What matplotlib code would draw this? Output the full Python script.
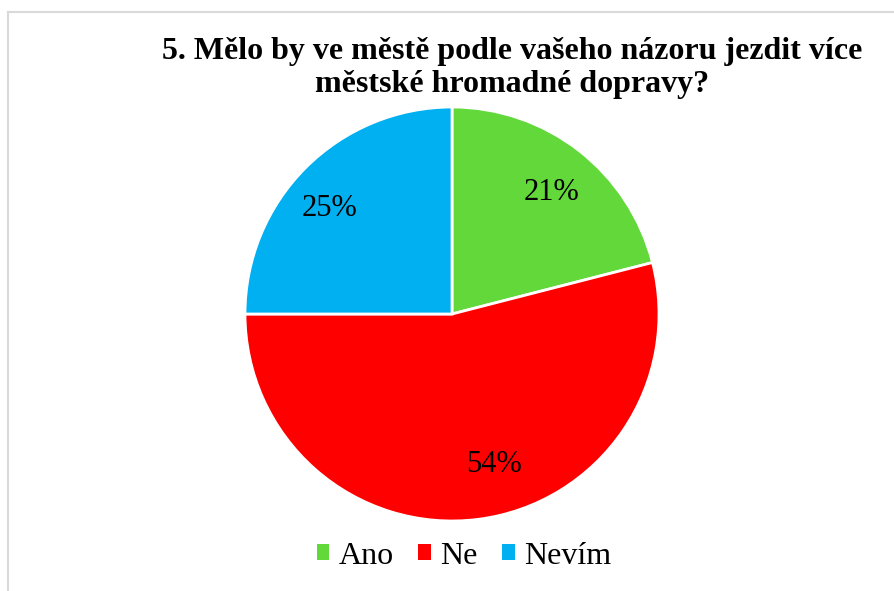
import matplotlib
matplotlib.use("Agg")
import matplotlib.pyplot as plt
from matplotlib.lines import Line2D
from matplotlib.patches import Patch

plt.rcParams["font.family"] = ["Liberation Serif", "DejaVu Serif"]

# Data
labels = ["Ano", "Ne", "Nevím"]
shares = [21, 54, 25]
colors = ["#63D83B", "#FF0000", "#00B0F0"]
title = "5. Mělo by ve městě podle vašeho názoru jezdit více\nměstské hromadné dopravy?"
# small nudges of the percentage labels (axes units), like Excel's best fit
label_nudge = [(0.01, -0.02), (0.105, 0.035), (-0.045, -0.035)]

W, H = 894, 591
fig = plt.figure(figsize=(W / 100, H / 100), dpi=100)

# Chart area border (cropped, only top and left visible)
fig.add_artist(Line2D([8 / W, 8 / W], [0, 1 - 12 / H], color="#d9d9d9", lw=1.5))
fig.add_artist(Line2D([8 / W, 1], [1 - 12 / H, 1 - 12 / H], color="#d9d9d9", lw=1.5))

# Pie
cx, cy, r = 452, 314, 207
ax = fig.add_axes([(cx - r) / W, (H - cy - r) / H, 2 * r / W, 2 * r / H])
wedges, texts = ax.pie(
    shares, colors=colors, startangle=90, counterclock=False,
    wedgeprops={"edgecolor": "white", "linewidth": 2},
    labels=[f"{v}%" for v in shares], labeldistance=0.77,
    textprops={"fontsize": 22, "color": "black"},
)
for t, (dx, dy) in zip(texts, label_nudge):
    x, y = t.get_position()
    t.set_position((x + dx, y + dy))
    t.set_ha("center")
    t.set_va("center")
ax.set_xlim(-1, 1)
ax.set_ylim(-1, 1)
ax.axis("off")

# Title
fig.text(512 / W, 1 - 68 / H, title, ha="center", va="center",
         fontsize=23, fontweight="bold", linespacing=1.15)

# Legend
handles = [Patch(facecolor=c, edgecolor="none") for c in colors]
fig.legend(
    handles, labels, loc="center", ncol=3, frameon=False,
    bbox_to_anchor=(464 / W, 1 - 556 / H), fontsize=23,
    handlelength=0.4, handleheight=0.4, handletextpad=0.3,
    columnspacing=0.75,
)

fig.savefig("out.png", dpi=100)
